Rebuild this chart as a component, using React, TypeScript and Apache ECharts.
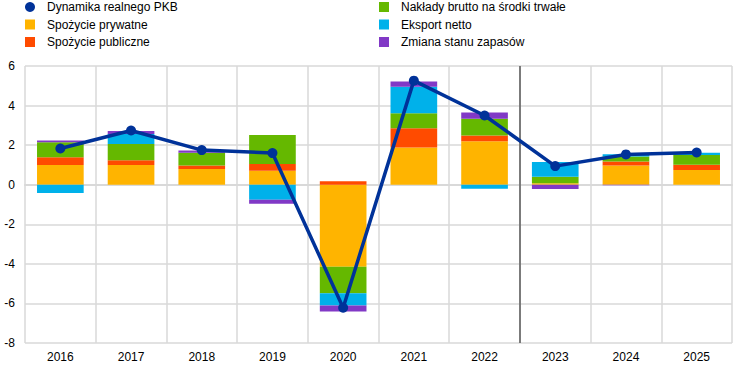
import React, { useEffect, useRef } from "react";
import * as echarts from "echarts";

const years = ["2016", "2017", "2018", "2019", "2020", "2021", "2022", "2023", "2024", "2025"];
const gdpGrowth = [1.83, 2.74, 1.75, 1.6, -6.22, 5.26, 3.5, 0.94, 1.53, 1.63];
const privateConsumption = [1.0, 1.0, 0.79, 0.71, -4.15, 1.88, 2.2, 0.08, 0.97, 0.74];
const publicConsumption = [0.39, 0.24, 0.18, 0.34, 0.17, 0.97, 0.29, 0.0, 0.2, 0.27];
const investment = [0.76, 0.82, 0.64, 1.46, -1.34, 0.76, 0.84, 0.32, 0.25, 0.49];
const netExports = [-0.42, 0.5, 0.0, -0.76, -0.62, 1.34, -0.2, 0.75, 0.12, 0.12];
const inventories = [0.08, 0.15, 0.12, -0.2, -0.3, 0.27, 0.32, -0.22, -0.03, 0.0];
const yTicks = { min: -8, max: 6, interval: 2 };
const forecastBoundary = 6.5; // between 2022 and 2023

const names = {
  gdp: "Dynamika realnego PKB",
  priv: "Spożycie prywatne",
  pub: "Spożycie publiczne",
  inv: "Nakłady brutto na środki trwałe",
  nx: "Eksport netto",
  stock: "Zmiana stanu zapasów",
};

const colors = {
  gdp: "#003299",
  priv: "#FFB400",
  pub: "#FF4B00",
  inv: "#65B800",
  nx: "#00B1EA",
  stock: "#8139C6",
};

const FONT = "'Liberation Sans', Arial, sans-serif";

export default function App() {
  const ref = useRef<HTMLDivElement>(null);
  useEffect(() => {
    if (!ref.current) return;
    const chart = echarts.init(ref.current, null, { renderer: "svg" });
    const bar = (key: keyof typeof names, data: number[]) => ({
      name: names[key],
      type: "bar",
      stack: "total",
      barWidth: "66%",
      data,
      itemStyle: { color: colors[key] },
      z: 2,
    });
    const legendCommon = {
      orient: "vertical",
      top: 1,
      padding: 0,
      itemWidth: 10,
      itemHeight: 10,
      itemGap: 5.5,
      selectedMode: false,
      textStyle: { fontFamily: FONT, fontSize: 12, color: "#000", padding: [0, 0, 0, 7] },
    };
    chart.setOption({
      animation: false,
      textStyle: { fontFamily: FONT },
      legend: [
        {
          ...legendCommon,
          left: 25,
          data: [
            { name: names.gdp, icon: "circle" },
            { name: names.priv, icon: "rect" },
            { name: names.pub, icon: "rect" },
          ],
        },
        {
          ...legendCommon,
          left: 379,
          data: [
            { name: names.inv, icon: "rect" },
            { name: names.nx, icon: "rect" },
            { name: names.stock, icon: "rect" },
          ],
        },
      ],
      grid: { left: 25, right: 12, top: 66, bottom: 26, containLabel: false },
      xAxis: [
        {
          type: "category",
          data: years,
          boundaryGap: true,
          axisLine: { show: true, lineStyle: { color: "#d9d9d9", width: 2 } },
          axisTick: { show: false },
          splitLine: { show: true, interval: 0, lineStyle: { color: "#d9d9d9", width: 1.5 } },
          axisLabel: { color: "#000", fontSize: 12, fontFamily: FONT, margin: 8 },
        },
        {
          type: "value",
          min: -0.5,
          max: 9.5,
          show: false,
        },
      ],
      yAxis: {
        type: "value",
        min: yTicks.min,
        max: yTicks.max,
        interval: yTicks.interval,
        axisLine: { show: false },
        axisTick: { show: false },
        splitLine: { show: true, lineStyle: { color: "#d9d9d9", width: 1.5 } },
        axisLabel: { color: "#000", fontSize: 12, fontFamily: FONT, margin: 10 },
      },
      series: [
        bar("priv", privateConsumption),
        bar("pub", publicConsumption),
        bar("inv", investment),
        bar("nx", netExports),
        bar("stock", inventories),
        {
          name: names.gdp,
          type: "line",
          data: gdpGrowth,
          symbol: "circle",
          symbolSize: 10,
          lineStyle: { color: colors.gdp, width: 3.5 },
          itemStyle: { color: colors.gdp },
          z: 5,
        },
        {
          name: "separator",
          type: "line",
          xAxisIndex: 1,
          data: [],
          silent: true,
          markLine: {
            silent: true,
            symbol: "none",
            label: { show: false },
            lineStyle: { color: "#595959", width: 1.5, type: "solid" },
            data: [{ xAxis: forecastBoundary }],
          },
          z: 4,
        },
      ],
    });
    return () => chart.dispose();
  }, []);
  return <div ref={ref} style={{ width: 744, height: 369, position: "absolute", left: 0, top: 0 }} />;
}
